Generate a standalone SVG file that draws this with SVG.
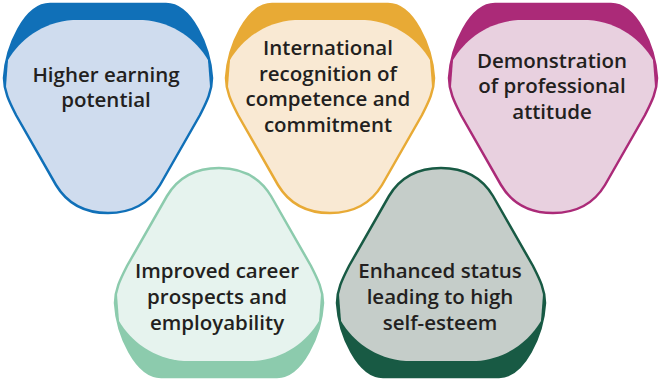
<svg xmlns="http://www.w3.org/2000/svg" xmlns:xlink="http://www.w3.org/1999/xlink" width="661" height="380" viewBox="0 0 661 380">
<style>
.t{font-family:"Open Sans","Noto Sans","Liberation Sans",sans-serif;font-size:20.5px;font-weight:600;fill:#231f20;text-anchor:middle}
.o{fill:none;stroke-width:2.5}
</style>
<defs>
<path id="tri" d="M -58,0 L 58,0 C 83,0 102,42 104,74 C 104,88 98,99 92,111 L 52,181 C 40,201 22,209 0,209 C -22,209 -40,201 -52,181 L -92,111 C -98,99 -104,88 -104,74 C -102,42 -83,0 -58,0 Z"/>
<path id="inner" d="M -100,56 C -88,36 -66,18 -35,16 L 35,16 C 66,18 88,36 100,56 L 112,215 L -112,215 Z"/>
<clipPath id="clip"><use xlink:href="#tri"/></clipPath>
</defs>
<g id="n1" transform="translate(108,4)">
<use xlink:href="#tri" fill="#1070b8"/>
<use xlink:href="#inner" fill="#cfdcee" clip-path="url(#clip)"/>
<use xlink:href="#tri" class="o" stroke="#1070b8"/>
</g>
<g id="n2" transform="translate(330,4)">
<use xlink:href="#tri" fill="#e8aa35"/>
<use xlink:href="#inner" fill="#f9e9d3" clip-path="url(#clip)"/>
<use xlink:href="#tri" class="o" stroke="#e8aa35"/>
</g>
<g id="n3" transform="translate(553,4)">
<use xlink:href="#tri" fill="#ab2a78"/>
<use xlink:href="#inner" fill="#e8d0df" clip-path="url(#clip)"/>
<use xlink:href="#tri" class="o" stroke="#ab2a78"/>
</g>
<g id="n4" transform="translate(219,377) scale(1,-1)">
<use xlink:href="#tri" fill="#8ccbad"/>
<use xlink:href="#inner" fill="#e6f3ee" clip-path="url(#clip)"/>
<use xlink:href="#tri" class="o" stroke="#8ccbad"/>
</g>
<g id="n5" transform="translate(441,377) scale(1,-1)">
<use xlink:href="#tri" fill="#185a44"/>
<use xlink:href="#inner" fill="#c5cdc9" clip-path="url(#clip)"/>
<use xlink:href="#tri" class="o" stroke="#185a44"/>
</g>
<g id="labels">
<text class="t"><tspan x="106" y="82">Higher earning</tspan><tspan x="106" y="107">potential</tspan></text>
<text class="t"><tspan x="328" y="55">International</tspan><tspan x="328" y="81">recognition of</tspan><tspan x="328" y="106">competence and</tspan><tspan x="328" y="132">commitment</tspan></text>
<text class="t"><tspan x="552" y="68">Demonstration</tspan><tspan x="552" y="93">of professional</tspan><tspan x="552" y="119">attitude</tspan></text>
<text class="t"><tspan x="217" y="278">Improved career</tspan><tspan x="217" y="304">prospects and</tspan><tspan x="217" y="330">employability</tspan></text>
<text class="t"><tspan x="440" y="278">Enhanced status</tspan><tspan x="440" y="304">leading to high</tspan><tspan x="440" y="330">self-esteem</tspan></text>
</g>
</svg>
